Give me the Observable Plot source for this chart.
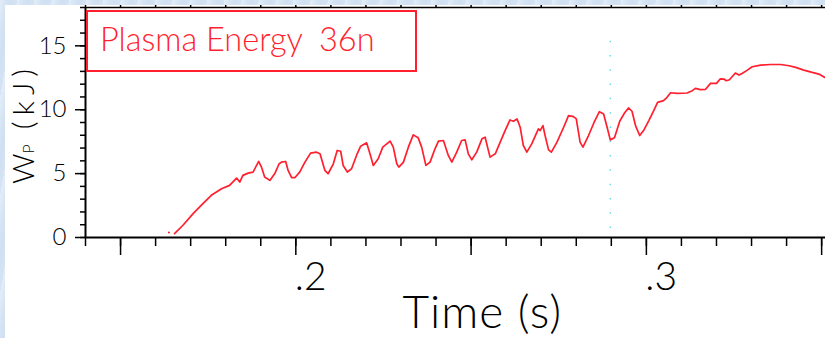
<!DOCTYPE html>
<html>
<head>
<meta charset="utf-8">
<script src="https://cdn.jsdelivr.net/npm/d3@7"></script>
<script src="https://cdn.jsdelivr.net/npm/@observablehq/plot@0.6"></script>
<style>
  html, body { margin: 0; padding: 0; }
  body {
    width: 825px; height: 338px; overflow: hidden; position: relative;
    background: #d5e4f4;
    background-image: repeating-linear-gradient(100deg, rgba(255,255,255,0.35) 0px, rgba(255,255,255,0) 6px, rgba(200,218,238,0.4) 11px, rgba(255,255,255,0) 17px);
  }
  #panel { position: absolute; left: 5px; top: 5px; width: 820px; height: 333px; background: #fff; overflow: hidden; }
  #panel svg { position: absolute; left: 0; top: 0; }
</style>
</head>
<body>
<div id="panel"></div>
<script>
// ---- data ----
const times = [0.1654,0.1678,0.1707,0.1735,0.1759,0.1788,0.1811,0.1831,0.1840,0.1849,0.1864,0.1878,0.1894,0.1902,0.1911,0.1926,0.1940,0.1952,0.1959,0.1971,0.1978,0.1988,0.1997,0.2011,0.2026,0.2042,0.2059,0.2069,0.2083,0.2092,0.2107,0.2118,0.2128,0.2135,0.2147,0.2159,0.2175,0.2185,0.2202,0.2213,0.2221,0.2235,0.2248,0.2269,0.2278,0.2288,0.2294,0.2307,0.2321,0.2335,0.2349,0.2359,0.2371,0.2383,0.2397,0.2407,0.2421,0.2435,0.2445,0.2459,0.2473,0.2483,0.2492,0.2502,0.2516,0.2531,0.2540,0.2554,0.2569,0.2583,0.2597,0.2611,0.2621,0.2631,0.2640,0.2649,0.2659,0.2673,0.2692,0.2697,0.2705,0.2711,0.2721,0.2729,0.2745,0.2764,0.2778,0.2792,0.2800,0.2811,0.2819,0.2835,0.2851,0.2866,0.2878,0.2888,0.2897,0.2909,0.2924,0.2937,0.2949,0.2959,0.2969,0.2981,0.2992,0.3007,0.3021,0.3032,0.3049,0.3059,0.3069,0.3088,0.3116,0.3131,0.3140,0.3154,0.3169,0.3183,0.3200,0.3211,0.3221,0.3228,0.3237,0.3254,0.3264,0.3273,0.3288,0.3302,0.3326,0.3354,0.3383,0.3407,0.3426,0.3449,0.3473,0.3492,0.3509];
const energy = [0.31,0.96,1.87,2.65,3.30,3.82,4.08,4.65,4.34,4.86,5.04,5.12,5.95,5.51,4.73,4.47,5.00,5.75,5.90,5.95,5.25,4.68,4.68,5.12,5.90,6.60,6.68,6.55,5.25,4.99,5.77,6.81,6.75,5.64,5.12,5.38,6.55,7.15,7.41,6.42,5.64,6.16,7.07,7.54,7.07,5.77,5.51,5.90,7.07,8.03,7.80,7.07,5.64,5.90,6.94,7.54,7.59,6.42,5.90,6.68,7.59,7.64,6.55,6.08,6.68,7.72,7.85,6.29,6.55,7.46,8.37,9.20,9.10,9.28,8.63,7.20,6.68,7.33,8.50,8.37,8.76,7.98,6.86,6.68,7.46,8.63,9.54,9.46,9.28,7.46,7.07,7.98,9.02,9.85,9.67,8.63,7.64,7.80,9.10,9.72,10.14,9.88,8.76,7.98,8.37,9.15,9.93,10.58,10.71,10.97,11.33,11.28,11.31,11.49,11.67,11.57,11.60,12.06,12.06,12.42,12.40,12.27,12.35,12.87,12.71,12.84,13.10,13.36,13.49,13.54,13.54,13.44,13.31,13.10,12.92,12.79,12.53];
const strayTime = [0.1638];
const strayEnergy = [0.39];
const markerTime = [0.2897];
const markerRange = [0.7, 16];

const xDomain = [0.14, 0.3511];
const yDomain = [0, 18];
const xMinorTicks = [0.14,0.15,0.16,0.17,0.18,0.19,0.20,0.21,0.22,0.23,0.24,0.25,0.26,0.27,0.28,0.29,0.30,0.31,0.32,0.33,0.34,0.35];
const xMajorTicks = [0.15,0.20,0.25,0.30,0.35];
const xLabelTicks = [0.2,0.3];
const yMinorTicks = [0,1,2,3,4,5,6,7,8,9,10,11,12,13,14,15,16,17,18];
const yMajorTicks = [0,5,10,15];

const titleText = "Plasma Energy";
const shotText = "36n";
const xTitle = "Time (s)";
const yTitleMain = "W";
const yTitleSub = "P";
const yTitleUnit = "(kJ)";

const RED = "#ff1f2e";
const FONT = "Lato, 'Open Sans', sans-serif";

const series = times.map((t, i) => ({t, w: energy[i]}));
const stray = strayTime.map((t, i) => ({t, w: strayEnergy[i]}));
const markers = markerTime.map(t => ({t, w1: markerRange[0], w2: markerRange[1]}));
const fmt = d => d.toFixed(1).replace(/^0/, "");

const chart = Plot.plot({
  width: 820,
  height: 333,
  marginLeft: 80,
  marginRight: 0,
  marginTop: 2,
  marginBottom: 101,
  style: {background: "white", fontFamily: FONT, fontWeight: 300, color: "black", overflow: "visible"},
  x: {domain: xDomain},
  y: {domain: yDomain},
  marks: [
    // axes
    Plot.axisY({ticks: yMinorTicks, tickSize: 5, tickFormat: () => "", strokeWidth: 1.5, label: null}),
    Plot.axisY({ticks: yMajorTicks, tickSize: 10, tickPadding: 9, fontSize: 24, strokeWidth: 1.5, label: null}),
    Plot.axisX({ticks: xMinorTicks, tickSize: 9, tickFormat: () => "", strokeWidth: 1.5, label: null}),
    Plot.axisX({ticks: xMajorTicks, tickSize: 18, tickFormat: () => "", strokeWidth: 1.5, label: null}),
    Plot.axisX({ticks: xLabelTicks, tickSize: 0, tickPadding: 25, tickFormat: fmt, textAnchor: "start", dx: -1, fontSize: 39, label: null}),
    Plot.axisX({anchor: "top", ticks: xMinorTicks, tickSize: 3, tickFormat: () => "", strokeWidth: 1.5, label: null}),
    Plot.ruleY([yDomain[1]], {stroke: "black", strokeWidth: 1.5}),
    Plot.ruleY([yDomain[0]], {stroke: "black", strokeWidth: 2}),
    Plot.ruleX([xDomain[0]], {stroke: "black", strokeWidth: 2}),
    // axis titles
    Plot.text([xTitle], {text: d => d, frameAnchor: "bottom", textAnchor: "start", dx: -53, dy: 90, lineAnchor: "bottom", fontSize: 46, fill: "black"}),
    Plot.text([yTitleMain], {text: d => d, frameAnchor: "left", rotate: -90, dx: -52, dy: 1, textAnchor: "middle", lineAnchor: "bottom", fontSize: 30, fill: "black"}),
    // marker
    Plot.ruleX(markers, {x: "t", y1: "w1", y2: "w2", stroke: "#5fe0ee", strokeWidth: 1.5, strokeDasharray: "1.5 12.8"}),
    // data
    Plot.line(series, {x: "t", y: "w", stroke: RED, strokeWidth: 1.7}),
    Plot.dot(stray, {x: "t", y: "w", r: 1, fill: RED, stroke: null})
  ]
});

// widen the x title, compose the y title with a small P subscript
d3.select(chart).selectAll("text").each(function() {
  const el = d3.select(this);
  const content = this.textContent;
  if (content === xTitle) {
    el.style("letter-spacing", "1px");
  } else if (content === yTitleMain) {
    el.text(null);
    el.append("tspan").text(yTitleMain);
    el.append("tspan").attr("font-size", 16).text(yTitleSub);
    el.append("tspan").text(" ");
    el.append("tspan").attr("dx", 7).style("letter-spacing", "6px").text(yTitleUnit);
  }
});

const panel = document.getElementById("panel");
panel.appendChild(chart);

// title box overlay
const overlay = d3.select(panel).append("svg")
  .attr("width", 820).attr("height", 80)
  .style("pointer-events", "none");
overlay.append("rect")
  .attr("x", 82).attr("y", 6).attr("width", 329).attr("height", 60)
  .attr("fill", "white").attr("stroke", RED).attr("stroke-width", 2);
const tt = overlay.append("text")
  .attr("x", 95).attr("y", 46)
  .attr("fill", RED)
  .style("font-family", FONT).style("font-weight", 300).style("font-size", "32.5px");
tt.append("tspan").text(titleText + " ");
tt.append("tspan").attr("x", 314).text(shotText);
</script>
</body>
</html>
